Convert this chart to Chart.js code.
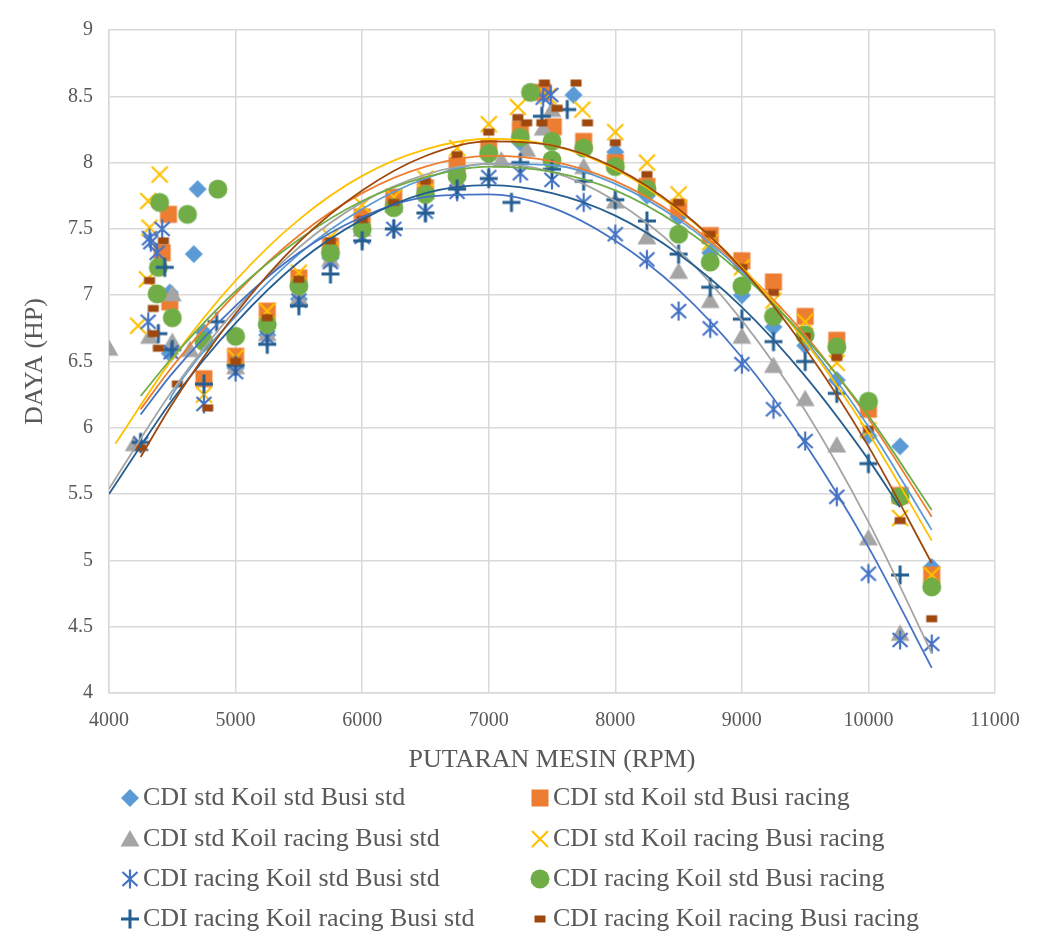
<!DOCTYPE html>
<html>
<head>
<meta charset="utf-8">
<script src="https://cdn.jsdelivr.net/npm/chart.js@4.4.1/dist/chart.umd.min.js"></script>
<style>
  body { margin: 0; background: #fff; }
  #wrap { position: relative; width: 1059px; height: 945px; }
  #legend .item { position: absolute; height: 30px; line-height: 30px; font-size: 26px; font-family: 'Liberation Serif', 'Times New Roman', serif; color: #595959; white-space: nowrap; }
  #legend canvas { position: absolute; }
</style>
</head>
<body>
<div id="wrap">
  <canvas id="chart-daya" width="1059" height="945"></canvas>
  <div id="legend"></div>
</div>
<script>
var rpmA  = [4480, 4480, 4670, 4700, 4750, 5000, 5250, 5500, 5750, 6000, 6250, 6500, 6750, 7000, 7250, 7670, 7750, 8000, 8250, 8500, 8750, 9000, 9250, 9500, 9750, 10000, 10250, 10500];
var dayaA = [7.02, 6.56, 7.31, 7.80, 6.72, 6.45, 6.70, 6.97, 7.28, 7.52, 7.70, 7.80, 7.88, 8.05, 8.15, 8.51, 8.12, 8.08, 7.75, 7.59, 7.32, 7.00, 6.76, 6.62, 6.36, 5.94, 5.86, 4.95];

var rpmB  = [4420, 4470, 4480, 4750, 5000, 5250, 5500, 5750, 6000, 6250, 6500, 6750, 7000, 7250, 7430, 7510, 7750, 8000, 8250, 8500, 8750, 9000, 9250, 9500, 9750, 10000, 10250, 10500];
var dayaB = [7.32, 7.61, 6.95, 6.37, 6.54, 6.88, 7.13, 7.37, 7.59, 7.74, 7.81, 7.98, 8.11, 8.25, 8.53, 8.27, 8.16, 8.00, 7.82, 7.66, 7.45, 7.26, 7.10, 6.84, 6.66, 6.14, 5.49, 4.89];

var rpmC  = [4000, 4200, 4320, 4500, 4500, 4640, 5000, 5250, 5500, 5750, 6000, 6250, 6500, 6750, 7100, 7300, 7430, 7500, 7750, 8000, 8250, 8500, 8750, 9000, 9250, 9500, 9750, 10000, 10250];
var dayaC = [6.60, 5.88, 6.69, 7.01, 6.65, 6.59, 6.46, 6.71, 6.98, 7.27, 7.50, 7.68, 7.78, 7.86, 8.02, 8.10, 8.26, 8.40, 7.97, 7.71, 7.44, 7.18, 6.96, 6.69, 6.47, 6.22, 5.87, 5.17, 4.45];

var rpmD  = [4230, 4300, 4310, 4320, 4400, 4750, 5000, 5250, 5500, 5750, 6000, 6250, 6500, 6750, 7000, 7230, 7470, 7740, 8000, 8250, 8500, 8750, 9000, 9250, 9500, 9750, 10000, 10250, 10500];
var dayaD = [6.77, 7.12, 7.71, 7.51, 7.91, 6.25, 6.53, 6.88, 7.17, 7.44, 7.68, 7.74, 7.88, 8.11, 8.29, 8.42, 8.50, 8.40, 8.23, 8.00, 7.76, 7.40, 7.21, 6.96, 6.80, 6.49, 5.98, 5.32, 4.89];

var rpmE  = [4250, 4310, 4320, 4330, 4380, 4420, 4490, 4750, 5000, 5250, 5500, 5750, 6000, 6250, 6500, 6750, 7000, 7250, 7430, 7490, 7500, 7750, 8000, 8250, 8500, 8750, 9000, 9250, 9500, 9750, 10000, 10250, 10500];
var dayaE = [5.88, 6.80, 7.43, 7.40, 7.32, 7.50, 6.57, 6.18, 6.42, 6.68, 6.96, 7.25, 7.44, 7.50, 7.63, 7.78, 7.89, 7.92, 8.49, 8.51, 7.87, 7.70, 7.46, 7.27, 6.88, 6.75, 6.48, 6.14, 5.90, 5.48, 4.90, 4.40, 4.37];

var rpmF  = [4380, 4390, 4400, 4500, 4620, 4750, 4860, 5000, 5250, 5500, 5750, 6000, 6250, 6500, 6750, 7000, 7250, 7330, 7500, 7500, 7750, 8000, 8250, 8500, 8750, 9000, 9250, 9500, 9750, 10000, 10250, 10500];
var dayaF = [7.01, 7.21, 7.70, 6.83, 7.61, 6.65, 7.80, 6.69, 6.78, 7.07, 7.32, 7.50, 7.66, 7.76, 7.90, 8.07, 8.19, 8.53, 8.16, 8.02, 8.11, 7.97, 7.80, 7.46, 7.25, 7.07, 6.84, 6.70, 6.61, 6.20, 5.48, 4.80];

var rpmG  = [4250, 4390, 4440, 4500, 4750, 4850, 5000, 5250, 5500, 5750, 6000, 6250, 6500, 6750, 7000, 7180, 7250, 7420, 7500, 7620, 7750, 8000, 8250, 8500, 8750, 9000, 9250, 9500, 9750, 10000, 10250];
var dayaG = [5.89, 6.71, 7.21, 6.59, 6.33, 6.80, 6.47, 6.63, 6.92, 7.16, 7.41, 7.50, 7.62, 7.80, 7.88, 7.70, 8.00, 8.35, 7.95, 8.40, 7.86, 7.72, 7.56, 7.31, 7.06, 6.82, 6.65, 6.50, 6.26, 5.73, 4.89];

var rpmH  = [4250, 4320, 4350, 4350, 4390, 4430, 4540, 4780, 5000, 5250, 5500, 5750, 6000, 6250, 6500, 6750, 7000, 7230, 7300, 7420, 7440, 7540, 7690, 7780, 8000, 8250, 8500, 8750, 9000, 9250, 9500, 9750, 10000, 10250, 10500];
var dayaH = [5.85, 7.11, 6.90, 6.71, 6.60, 7.41, 6.33, 6.15, 6.50, 6.83, 7.12, 7.41, 7.57, 7.70, 7.86, 8.06, 8.23, 8.34, 8.30, 8.30, 8.60, 8.41, 8.60, 8.30, 8.15, 7.91, 7.70, 7.46, 7.21, 7.02, 6.69, 6.53, 5.99, 5.30, 4.56];

// trend lines
var trendRpm   = [4500, 5000, 5500, 6000, 6500, 7000, 7500, 8000, 8500, 9000, 9500, 10000];
var trendA = [6.25, 6.84, 7.31, 7.65, 7.88, 7.99, 7.98, 7.84, 7.57, 7.18, 6.66, 6.01];
var trendB = [6.46, 7.01, 7.45, 7.77, 7.97, 8.05, 8.01, 7.86, 7.59, 7.20, 6.70, 6.07];
var trendC = [6.28, 6.89, 7.36, 7.70, 7.91, 7.99, 7.93, 7.71, 7.34, 6.81, 6.13, 5.29];
var trendD = [6.52, 7.11, 7.57, 7.90, 8.10, 8.18, 8.13, 7.95, 7.64, 7.21, 6.65, 5.96];
var trendE = [6.41, 6.92, 7.32, 7.59, 7.74, 7.76, 7.66, 7.41, 7.04, 6.53, 5.88, 5.10];
var trendF = [6.53, 7.03, 7.42, 7.71, 7.89, 7.97, 7.93, 7.79, 7.53, 7.16, 6.68, 6.09];
var trendG = [6.21, 6.79, 7.25, 7.57, 7.77, 7.83, 7.77, 7.60, 7.31, 6.91, 6.39, 5.76];
var trendH = [6.18, 6.86, 7.40, 7.79, 8.05, 8.16, 8.13, 7.96, 7.65, 7.20, 6.60, 5.86];
// where each trend line starts and ends [rpm, HP]
var trendStartA = [4480, 6.21],  trendEndA = [10500, 5.23];
var trendStartB = [4250, 6.14],  trendEndB = [10500, 5.33];
var trendStartC = [4000, 5.54],  trendEndC = [10500, 4.30];
var trendStartD = [4050, 5.88],  trendEndD = [10500, 5.15];
var trendStartE = [4250, 6.10],  trendEndE = [10500, 4.19];
var trendStartF = [4250, 6.24],  trendEndF = [10500, 5.38];
var trendStartG = [4000, 5.50],  trendEndG = [10250, 5.40];
var trendStartH = [4250, 5.78],  trendEndH = [10500, 4.98];

var xTicks = [4000, 5000, 6000, 7000, 8000, 9000, 10000, 11000];
var yTicks = [4, 4.5, 5, 5.5, 6, 6.5, 7, 7.5, 8, 8.5, 9];

var FONT = "'Liberation Serif', 'Times New Roman', serif";
var TEXT = '#595959';

var series = [
  {label: 'CDI std Koil std Busi std',             color: '#5B9BD5', marker: 'diamond',  rpm: rpmA, daya: dayaA, trend: trendA, t0: trendStartA, t1: trendEndA},
  {label: 'CDI std Koil std Busi racing',          color: '#ED7D31', marker: 'square',   rpm: rpmB, daya: dayaB, trend: trendB, t0: trendStartB, t1: trendEndB},
  {label: 'CDI std Koil racing Busi std',          color: '#A5A5A5', marker: 'triangle', rpm: rpmC, daya: dayaC, trend: trendC, t0: trendStartC, t1: trendEndC},
  {label: 'CDI std Koil racing Busi racing',       color: '#FFC000', marker: 'x',        rpm: rpmD, daya: dayaD, trend: trendD, t0: trendStartD, t1: trendEndD},
  {label: 'CDI racing Koil std Busi std',          color: '#4472C4', marker: 'star',     rpm: rpmE, daya: dayaE, trend: trendE, t0: trendStartE, t1: trendEndE},
  {label: 'CDI racing Koil std Busi racing',       color: '#70AD47', marker: 'circle',   rpm: rpmF, daya: dayaF, trend: trendF, t0: trendStartF, t1: trendEndF},
  {label: 'CDI racing Koil racing Busi std',       color: '#255E91', marker: 'plus',     rpm: rpmG, daya: dayaG, trend: trendG, t0: trendStartG, t1: trendEndG},
  {label: 'CDI racing Koil racing Busi racing',    color: '#9E480E', marker: 'dash',     rpm: rpmH, daya: dayaH, trend: trendH, t0: trendStartH, t1: trendEndH}
];

// excel-like marker drawn into a small canvas, used as pointStyle
function makeMarker(kind, color) {
  var cv = document.createElement('canvas');
  cv.width = 26; cv.height = 26;
  var g = cv.getContext('2d');
  var c = 13;
  g.fillStyle = color;
  g.strokeStyle = color;
  g.beginPath();
  if (kind === 'diamond') {
    g.moveTo(c, c - 9); g.lineTo(c + 9, c); g.lineTo(c, c + 9); g.lineTo(c - 9, c); g.closePath(); g.fill();
  } else if (kind === 'square') {
    g.fillRect(c - 8.5, c - 8.5, 17, 17);
  } else if (kind === 'triangle') {
    g.moveTo(c, c - 9); g.lineTo(c + 9.5, c + 7.5); g.lineTo(c - 9.5, c + 7.5); g.closePath(); g.fill();
  } else if (kind === 'x') {
    g.lineWidth = 2.2;
    g.moveTo(c - 8, c - 8); g.lineTo(c + 8, c + 8); g.moveTo(c + 8, c - 8); g.lineTo(c - 8, c + 8); g.stroke();
  } else if (kind === 'star') {
    g.lineWidth = 2.2;
    g.moveTo(c - 7.5, c - 7); g.lineTo(c + 7.5, c + 7); g.moveTo(c + 7.5, c - 7); g.lineTo(c - 7.5, c + 7);
    g.moveTo(c, c - 9.5); g.lineTo(c, c + 9.5); g.stroke();
  } else if (kind === 'circle') {
    g.arc(c, c, 9.5, 0, Math.PI * 2); g.fill();
  } else if (kind === 'plus') {
    g.lineWidth = 3;
    g.moveTo(c - 9, c); g.lineTo(c + 9, c); g.moveTo(c, c - 9.5); g.lineTo(c, c + 9.5); g.stroke();
  } else if (kind === 'dash') {
    g.fillRect(c - 5.5, c - 3.5, 11, 7);
  }
  return cv;
}

var datasets = [];
series.forEach(function(s, i) {
  datasets.push({
    label: s.label,
    data: s.rpm.map(function(x, j) { return {x: x, y: s.daya[j]}; }),
    pointStyle: makeMarker(s.marker, s.color),
    pointRadius: 9,
    showLine: false,
    order: 8 - i
  });
  var pts = [{x: s.t0[0], y: s.t0[1]}];
  trendRpm.forEach(function(x, j) {
    if (x > s.t0[0] && x < s.t1[0]) pts.push({x: x, y: s.trend[j]});
  });
  pts.push({x: s.t1[0], y: s.t1[1]});
  datasets.push({
    label: s.label + ' trend',
    data: pts,
    showLine: true,
    pointRadius: 0,
    borderColor: s.color,
    borderWidth: 1.8,
    cubicInterpolationMode: 'monotone',
    order: -1 - i
  });
});

var ctx = document.getElementById('chart-daya').getContext('2d');
var dayaChart = new Chart(ctx, {
  type: 'scatter',
  data: {datasets: datasets},
  options: {
    responsive: false,
    animation: false,
    devicePixelRatio: 1,
    layout: {padding: {left: 0, top: 30, right: 64, bottom: 169}},
    plugins: {legend: {display: false}, tooltip: {enabled: false}},
    scales: {
      x: {
        type: 'linear', min: xTicks[0], max: xTicks[xTicks.length - 1],
        afterBuildTicks: function(scale) { scale.ticks = xTicks.map(function(v) { return {value: v}; }); },
        afterFit: function(scale) { scale.height = 83; },
        ticks: {callback: function(v) { return String(v); }, font: {family: FONT, size: 20}, color: TEXT, padding: 16, maxRotation: 0},
        grid: {color: '#D9D9D9', lineWidth: 1.5, drawTicks: false},
        border: {color: '#D9D9D9', width: 1.5},
        title: {display: true, text: 'PUTARAN MESIN (RPM)', font: {family: FONT, size: 26}, color: TEXT, padding: 0}
      },
      y: {
        type: 'linear', min: yTicks[0], max: yTicks[yTicks.length - 1],
        afterBuildTicks: function(scale) { scale.ticks = yTicks.map(function(v) { return {value: v}; }); },
        afterFit: function(scale) { scale.width = 109; },
        ticks: {callback: function(v) { return String(v); }, font: {family: FONT, size: 20}, color: TEXT, padding: 16},
        grid: {color: '#D9D9D9', lineWidth: 1.5, drawTicks: false},
        border: {color: '#D9D9D9', width: 1.5},
        title: {display: true, text: 'DAYA (HP)', font: {family: FONT, size: 26}, color: TEXT, padding: {top: 20, bottom: 0}}
      }
    }
  }
});

// legend in two columns under the chart
var legendCols = [130, 540];
var legendRows = [798, 839, 879, 919];
var legend = document.getElementById('legend');
series.forEach(function(s, i) {
  var cx = legendCols[i % 2], cy = legendRows[Math.floor(i / 2)];
  var m = makeMarker(s.marker, s.color);
  m.style.left = (cx - 13) + 'px';
  m.style.top = (cy - 13) + 'px';
  legend.appendChild(m);
  var t = document.createElement('div');
  t.className = 'item';
  t.textContent = s.label;
  t.style.left = (cx + 13) + 'px';
  t.style.top = (cy - 16) + 'px';
  legend.appendChild(t);
});
</script>
</body>
</html>
